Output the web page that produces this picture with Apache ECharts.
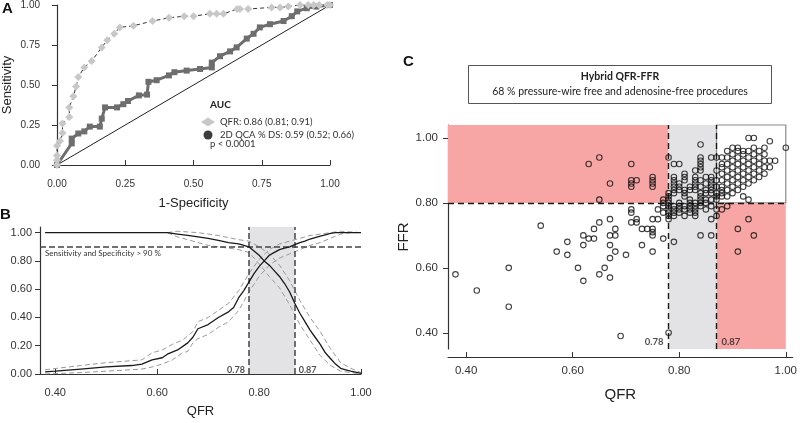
<!DOCTYPE html>
<html><head><meta charset="utf-8">
<script src="https://cdn.jsdelivr.net/npm/echarts@6/dist/echarts.min.js"></script>
<style>html,body{margin:0;padding:0;background:#fff}#c{width:800px;height:423px}</style>
</head><body><div id="c"></div>
<script>
// ---------- Panel A: ROC curves [1-specificity, sensitivity] ----------
const rocQfr = [[0,0],[0,0.03],[0,0.06],[0,0.12],[0.011,0.15],[0.02,0.20],[0.02,0.26],[0.045,0.30],[0.045,0.36],[0.06,0.43],[0.07,0.49],[0.078,0.55],[0.10,0.61],[0.127,0.65],[0.164,0.735],[0.184,0.78],[0.21,0.82],[0.23,0.86],[0.28,0.87],[0.35,0.90],[0.41,0.92],[0.466,0.93],[0.50,0.93],[0.56,0.945],[0.585,0.945],[0.61,0.945],[0.66,0.975],[0.67,0.975],[0.70,0.975],[0.786,0.985],[0.817,0.985],[0.847,0.99],[0.89,1.0],[0.92,1.0],[0.94,1.0],[0.96,1.0],[0.99,1.0],[1.0,1.0]];
const rocQca = [[0,0],[0.054,0.135],[0.054,0.165],[0.078,0.197],[0.10,0.21],[0.12,0.24],[0.157,0.24],[0.164,0.29],[0.176,0.36],[0.22,0.36],[0.243,0.38],[0.26,0.40],[0.30,0.435],[0.33,0.44],[0.335,0.52],[0.365,0.53],[0.41,0.56],[0.43,0.58],[0.475,0.59],[0.524,0.60],[0.567,0.61],[0.567,0.64],[0.597,0.68],[0.634,0.71],[0.658,0.735],[0.695,0.79],[0.72,0.82],[0.743,0.86],[0.78,0.88],[0.83,0.90],[0.86,0.93],[0.88,0.96],[0.915,0.98],[0.95,0.99],[1.0,1.0]];
const rocDiagonal = [[0,0],[1,1]];
const legendQfr = 'QFR: 0.86 (0.81; 0.91)';
const legendQca = '2D QCA % DS: 0.59 (0.52; 0.66)';
const ticksA = [0, 0.25, 0.5, 0.75, 1];

// ---------- Panel B: sensitivity / specificity vs QFR cut-off ----------
const specCurve = [[0.38,1.0],[0.45,1.0],[0.55,1.0],[0.62,1.0],[0.64,0.99],[0.66,0.98],[0.68,0.97],[0.70,0.96],[0.72,0.945],[0.74,0.93],[0.76,0.92],[0.78,0.90],[0.79,0.87],[0.80,0.84],[0.81,0.80],[0.82,0.77],[0.83,0.73],[0.84,0.69],[0.85,0.64],[0.86,0.58],[0.87,0.50],[0.88,0.43],[0.89,0.37],[0.90,0.31],[0.91,0.26],[0.92,0.21],[0.93,0.15],[0.94,0.11],[0.95,0.07],[0.96,0.04],[0.97,0.03],[0.98,0.02],[1.00,0.005]];
const specUpper = [[0.62,1.0],[0.64,1.01],[0.68,1.0],[0.70,0.99],[0.72,0.98],[0.74,0.965],[0.76,0.95],[0.78,0.94],[0.80,0.90],[0.82,0.85],[0.84,0.77],[0.86,0.66],[0.87,0.59],[0.88,0.52],[0.90,0.40],[0.92,0.30],[0.94,0.18],[0.96,0.08],[0.98,0.04],[1.00,0.01]];
const specLower = [[0.62,1.0],[0.64,0.97],[0.66,0.95],[0.68,0.93],[0.70,0.91],[0.72,0.90],[0.74,0.89],[0.76,0.88],[0.78,0.86],[0.80,0.78],[0.82,0.69],[0.84,0.61],[0.86,0.49],[0.87,0.42],[0.88,0.35],[0.90,0.24],[0.92,0.13],[0.94,0.06],[0.96,0.02],[0.98,0.01],[1.00,0.0]];
const sensCurve = [[0.38,0.015],[0.40,0.02],[0.45,0.035],[0.50,0.05],[0.55,0.06],[0.57,0.07],[0.59,0.10],[0.61,0.115],[0.62,0.14],[0.64,0.17],[0.66,0.22],[0.67,0.26],[0.68,0.32],[0.70,0.35],[0.72,0.40],[0.74,0.44],[0.75,0.47],[0.76,0.54],[0.77,0.59],[0.78,0.65],[0.79,0.71],[0.80,0.76],[0.81,0.80],[0.82,0.84],[0.83,0.86],[0.84,0.88],[0.85,0.89],[0.86,0.90],[0.87,0.915],[0.88,0.93],[0.89,0.94],[0.90,0.955],[0.91,0.965],[0.92,0.975],[0.93,0.985],[0.94,0.995],[0.95,1.0],[1.00,1.0]];
const sensUpper = [[0.38,0.03],[0.45,0.06],[0.50,0.08],[0.57,0.10],[0.59,0.15],[0.61,0.17],[0.63,0.21],[0.65,0.24],[0.67,0.30],[0.68,0.37],[0.70,0.40],[0.72,0.45],[0.74,0.50],[0.76,0.59],[0.78,0.71],[0.80,0.81],[0.82,0.88],[0.84,0.92],[0.86,0.94],[0.88,0.96],[0.90,0.98],[0.92,0.99],[0.94,1.0],[0.96,1.01],[1.00,1.0]];
const sensLower = [[0.38,0.0],[0.45,0.01],[0.50,0.02],[0.57,0.035],[0.59,0.05],[0.61,0.07],[0.63,0.10],[0.65,0.15],[0.66,0.16],[0.67,0.22],[0.68,0.25],[0.70,0.28],[0.72,0.33],[0.74,0.37],[0.76,0.45],[0.78,0.58],[0.80,0.69],[0.82,0.77],[0.84,0.82],[0.86,0.85],[0.88,0.88],[0.90,0.91],[0.92,0.93],[0.94,0.96],[0.96,0.99],[0.98,1.0],[1.00,1.0]];
const target90 = 0.90;
const cutoffs = [0.78, 0.87];
const ticksBx = [0.4, 0.6, 0.8, 1.0];
const ticksBy = [0, 0.2, 0.4, 0.6, 0.8, 1.0];

// ---------- Panel C: FFR vs QFR scatter ----------
const ffrVsQfr = [
[0.38,0.58],[0.42,0.53],[0.48,0.60],[0.48,0.48],[0.54,0.73],[0.57,0.65],[0.59,0.68],[0.59,0.64],[0.61,0.60],[0.62,0.70],[0.62,0.67],[0.62,0.56],[0.63,0.69],[0.64,0.72],[0.64,0.69],[0.65,0.74],[0.65,0.58],[0.66,0.60],[0.67,0.75],[0.67,0.70],[0.67,0.67],[0.67,0.63],[0.67,0.57],[0.68,0.72],[0.68,0.70],[0.68,0.65],[0.69,0.39],[0.70,0.64],[0.71,0.78],[0.71,0.77],[0.71,0.74],[0.72,0.75],[0.72,0.74],[0.73,0.72],[0.73,0.67],[0.74,0.72],[0.75,0.75],[0.75,0.72],[0.75,0.71],[0.75,0.70],[0.75,0.65],[0.76,0.75],[0.76,0.78],[0.77,0.69],[0.77,0.77],[0.77,0.79],[0.78,0.40],
[0.63,0.92],[0.65,0.94],[0.71,0.92],[0.67,0.86],[0.71,0.87],[0.71,0.86],[0.71,0.85],[0.72,0.87],[0.75,0.88],[0.75,0.87],[0.75,0.86],[0.75,0.85],[0.78,0.94],[0.65,0.81],[0.77,0.81],
[0.79,0.68],[0.78,0.75],[0.77,0.80],
[0.78,0.76],[0.78,0.77],[0.78,0.78],[0.78,0.79],[0.78,0.80],[0.78,0.81],[0.78,0.82],[0.78,0.83],
[0.79,0.92],[0.79,0.88],[0.79,0.87],[0.79,0.86],[0.79,0.85],[0.79,0.84],[0.79,0.83],[0.79,0.79],[0.79,0.78],[0.79,0.77],[0.79,0.76],
[0.80,0.92],[0.80,0.86],[0.80,0.85],[0.80,0.84],[0.80,0.80],[0.80,0.79],[0.80,0.78],[0.80,0.77],
[0.81,0.89],[0.81,0.88],[0.81,0.87],[0.81,0.84],[0.81,0.83],[0.81,0.82],[0.81,0.79],[0.81,0.78],[0.81,0.76],
[0.82,0.85],[0.82,0.84],[0.82,0.81],[0.82,0.80],[0.82,0.79],[0.82,0.78],[0.82,0.77],
[0.83,0.90],[0.83,0.88],[0.83,0.87],[0.83,0.86],[0.83,0.85],[0.83,0.84],[0.83,0.80],[0.83,0.79],[0.83,0.78],[0.83,0.77],[0.83,0.76],
[0.84,0.98],[0.84,0.94],[0.84,0.93],[0.84,0.92],[0.84,0.91],[0.84,0.90],[0.84,0.87],[0.84,0.85],[0.84,0.83],[0.84,0.82],[0.84,0.81],[0.84,0.80],[0.84,0.79],[0.84,0.70],
[0.85,0.88],[0.85,0.86],[0.85,0.84],[0.85,0.83],[0.85,0.81],[0.85,0.80],[0.85,0.78],
[0.86,0.94],[0.86,0.88],[0.86,0.87],[0.86,0.86],[0.86,0.85],[0.86,0.84],[0.86,0.83],[0.86,0.81],[0.86,0.79],[0.86,0.75],[0.86,0.70],
[0.87,0.94],[0.87,0.90],[0.87,0.87],[0.87,0.85],[0.87,0.83],[0.87,0.82],[0.87,0.81],[0.87,0.78],[0.87,0.76],
[0.88,0.94],[0.88,0.92],[0.88,0.91],[0.88,0.89],[0.88,0.87],[0.88,0.85],[0.88,0.84],[0.88,0.83],[0.88,0.82],[0.88,0.78],
[0.89,0.96],[0.89,0.94],[0.89,0.92],[0.89,0.90],[0.89,0.88],[0.89,0.86],[0.89,0.84],[0.89,0.82],[0.89,0.79],
[0.90,0.97],[0.90,0.95],[0.90,0.93],[0.90,0.91],[0.90,0.89],[0.90,0.87],[0.90,0.85],[0.90,0.83],
[0.91,0.97],[0.91,0.96],[0.91,0.94],[0.91,0.92],[0.91,0.90],[0.91,0.88],[0.91,0.86],[0.91,0.84],[0.91,0.72],[0.91,0.65],
[0.92,0.96],[0.92,0.95],[0.92,0.93],[0.92,0.91],[0.92,0.89],[0.92,0.87],[0.92,0.85],[0.92,0.82],
[0.93,1.00],[0.93,0.96],[0.93,0.94],[0.93,0.92],[0.93,0.90],[0.93,0.88],[0.93,0.86],[0.93,0.81],[0.93,0.75],
[0.94,1.00],[0.94,0.97],[0.94,0.95],[0.94,0.93],[0.94,0.91],[0.94,0.89],[0.94,0.87],[0.94,0.70],
[0.95,0.96],[0.95,0.94],[0.95,0.92],[0.95,0.90],[0.95,0.88],
[0.96,0.97],[0.96,0.95],[0.96,0.93],[0.96,0.91],[0.96,0.89],
[0.97,0.99],[0.97,0.93],[0.97,0.91],[0.98,0.93],[1.00,0.97]
];
const ffrCut = 0.80;
const ticksCx = [0.4, 0.6, 0.8, 1.0];
const ticksCy = [0.4, 0.6, 0.8, 1.0];

const AX = '#333';
const LAB = 'Liberation Sans, Arial, sans-serif';
const CAL = 'Lato, Open Sans, sans-serif';
const fmt = v => Number(v).toFixed(2);
const pink = '#f8a5a5', greyBand = '#e3e3e5';

const chart = echarts.init(document.getElementById('c'), null, {renderer: 'canvas'});

function xAx(grid, min, max, offset, ticks, name, nameGap, nameSize, labelSize, margin) {
  const o = {gridIndex: grid, type: 'value', min: min, max: max, offset: offset,
    axisLine: {show: true, lineStyle: {color: AX, width: 1.2}},
    axisTick: {show: true, inside: true, length: 5, lineStyle: {color: AX}},
    axisLabel: {formatter: fmt, fontSize: labelSize, color: '#333', fontFamily: LAB, margin: margin},
    splitLine: {show: false},
    name: name, nameLocation: 'middle', nameGap: nameGap,
    nameTextStyle: {fontSize: nameSize, color: '#222', fontFamily: LAB}};
  if (ticks) { o.axisLabel.customValues = ticks; o.axisTick.customValues = ticks; }
  return o;
}
function yAx(grid, min, max, offset, ticks, name, nameGap, nameSize, labelSize, margin) {
  const o = {gridIndex: grid, type: 'value', min: min, max: max, offset: offset,
    axisLine: {show: true, lineStyle: {color: AX, width: 1.2}},
    axisTick: {show: true, inside: false, length: 5, lineStyle: {color: AX}},
    axisLabel: {formatter: fmt, fontSize: labelSize, color: '#333', fontFamily: LAB, margin: margin},
    splitLine: {show: false},
    name: name, nameLocation: 'middle', nameGap: nameGap, nameRotate: 90,
    nameTextStyle: {fontSize: nameSize, color: '#222', fontFamily: LAB}};
  if (ticks) { o.axisLabel.customValues = ticks; o.axisTick.customValues = ticks; }
  return o;
}

const option = {
  animation: false,
  backgroundColor: '#fff',
  grid: [
    {left: 57, top: 4, width: 273, height: 161},
    {left: 40, top: 227, width: 321, height: 147},
    {left: 448, top: 125, width: 347, height: 224}
  ],
  xAxis: [
    xAx(0, 0, 1, 8, ticksA, '1-Specificity', 24, 13, 10, 6),
    xAx(1, 0.37, 1.0, 8, ticksBx, 'QFR', 23, 13, 11, 5),
    xAx(2, 0.366, 1.013, 8, ticksCx, 'QFR', 30, 15, 11.5, 8)
  ],
  yAxis: [
    yAx(0, 0, 1, 9, ticksA, 'Sensitivity', 34, 13, 10, 8),
    yAx(1, 0, 1.04, 0, ticksBy, '', 30, 13, 11, 8),
    yAx(2, 0.35, 1.04, 0, ticksCy, 'FFR', 32, 15, 11.5, 10)
  ],
  legend: {
    left: 196, top: 112, orient: 'vertical', itemWidth: 14, itemHeight: 9, itemGap: 3,
    textStyle: {fontSize: 9.5, color: '#333', fontFamily: CAL},
    data: [
      {name: legendQfr, icon: 'diamond', itemStyle: {color: '#c8c8c8'}},
      {name: legendQca, icon: 'circle', itemStyle: {color: '#3c3c3c'}}
    ]
  },
  series: [
    // Panel A
    {type: 'line', name: 'diag', xAxisIndex: 0, yAxisIndex: 0, data: rocDiagonal, symbol: 'none',
      lineStyle: {color: '#222', width: 1}, z: 2},
    {type: 'line', name: legendQca, xAxisIndex: 0, yAxisIndex: 0, data: rocQca, symbol: 'rect', symbolSize: 6,
      itemStyle: {color: '#6e6e6e'}, lineStyle: {color: '#6e6e6e', width: 3}, z: 3},
    {type: 'line', name: legendQfr, xAxisIndex: 0, yAxisIndex: 0, data: rocQfr, symbol: 'diamond', symbolSize: 8,
      itemStyle: {color: '#c8c8c8'}, lineStyle: {color: '#333', width: 1, type: [4, 3]}, z: 4},
    // Panel B background
    {type: 'line', name: 'bgB', xAxisIndex: 1, yAxisIndex: 1, data: [], z: 1,
      markArea: {silent: true, itemStyle: {color: greyBand}, data: [[{xAxis: cutoffs[0]}, {xAxis: cutoffs[1]}]]},
      markLine: {silent: true, symbol: 'none', label: {show: false},
        lineStyle: {color: '#444', width: 1.5, type: [6, 3]},
        data: [{xAxis: cutoffs[0]}, {xAxis: cutoffs[1]}, {yAxis: target90}]}},
    {type: 'line', xAxisIndex: 1, yAxisIndex: 1, data: specUpper, symbol: 'none', lineStyle: {color: '#9a9a9a', width: 1, type: [5, 3]}, z: 4},
    {type: 'line', xAxisIndex: 1, yAxisIndex: 1, data: specLower, symbol: 'none', lineStyle: {color: '#9a9a9a', width: 1, type: [5, 3]}, z: 4},
    {type: 'line', xAxisIndex: 1, yAxisIndex: 1, data: sensUpper, symbol: 'none', lineStyle: {color: '#9a9a9a', width: 1, type: [5, 3]}, z: 4},
    {type: 'line', xAxisIndex: 1, yAxisIndex: 1, data: sensLower, symbol: 'none', lineStyle: {color: '#9a9a9a', width: 1, type: [5, 3]}, z: 4},
    {type: 'line', xAxisIndex: 1, yAxisIndex: 1, data: specCurve, symbol: 'none', lineStyle: {color: '#1a1a1a', width: 1.3}, z: 5},
    {type: 'line', xAxisIndex: 1, yAxisIndex: 1, data: sensCurve, symbol: 'none', lineStyle: {color: '#1a1a1a', width: 1.3}, z: 5},
    {type: 'scatter', xAxisIndex: 1, yAxisIndex: 1, symbolSize: 0, z: 6,
      data: cutoffs.map((c, i) => ({value: [c, 0.03], label: {position: i === 0 ? 'left' : 'right'}})),
      label: {show: true, formatter: p => fmt(p.value[0]), fontSize: 9, fontWeight: 'bold', color: '#222', fontFamily: CAL, distance: 4}},
    // Panel C background
    {type: 'line', name: 'bgC', xAxisIndex: 2, yAxisIndex: 2, data: [], z: 1,
      markArea: {silent: true, data: [
        [{coord: [0.366, ffrCut], itemStyle: {color: pink}}, {coord: [cutoffs[0], 1.04]}],
        [{xAxis: cutoffs[0], itemStyle: {color: greyBand}}, {xAxis: cutoffs[1]}],
        [{coord: [cutoffs[1], ffrCut], itemStyle: {color: '#fff', borderColor: '#8a8a8a', borderWidth: 1.2}}, {coord: [1.0, 1.04]}],
        [{coord: [cutoffs[1], 0.35], itemStyle: {color: pink}}, {coord: [1.0, ffrCut]}]
      ]},
      markLine: {silent: true, symbol: 'none', label: {show: false},
        lineStyle: {color: '#1a1a1a', width: 1.4, type: [6, 4]},
        data: [{xAxis: cutoffs[0]}, {xAxis: cutoffs[1]}, [{coord: [0.366, ffrCut]}, {coord: [1.0, ffrCut]}]]}},
    {type: 'scatter', xAxisIndex: 2, yAxisIndex: 2, data: ffrVsQfr, symbol: 'circle', symbolSize: 5.5, z: 5,
      itemStyle: {color: 'rgba(255,255,255,0)', borderColor: '#111', borderWidth: 1.1}},
    {type: 'scatter', xAxisIndex: 2, yAxisIndex: 2, symbolSize: 0, z: 6,
      data: cutoffs.map((c, i) => ({value: [c, 0.372], label: {position: i === 0 ? 'left' : 'right'}})),
      label: {show: true, formatter: p => fmt(p.value[0]), fontSize: 9.5, fontWeight: 'bold', color: '#222', fontFamily: CAL, distance: 5}}
  ],
  graphic: [
    {type: 'text', left: 2, top: 1, style: {text: 'A', font: 'bold 15px Liberation Sans, Arial', fill: '#111'}},
    {type: 'text', left: 0, top: 207, style: {text: 'B', font: 'bold 15px Liberation Sans, Arial', fill: '#111'}},
    {type: 'text', left: 403, top: 54, style: {text: 'C', font: 'bold 15px Liberation Sans, Arial', fill: '#111'}},
    {type: 'text', left: 210, top: 100, style: {text: 'AUC', font: 'bold 10px Lato, sans-serif', fill: '#222'}},
    {type: 'text', left: 210, top: 139, style: {text: 'p < 0.0001', font: '9.5px Lato, sans-serif', fill: '#333'}},
    {type: 'text', left: 45, top: 249, style: {text: 'Sensitivity and Specificity > 90 %', font: '8px Lato, sans-serif', fill: '#333'}},
    {type: 'rect', left: 468, top: 65, shape: {width: 303, height: 38}, style: {fill: '#fff', stroke: '#555', lineWidth: 1}},
    {type: 'text', x: 620, y: 77, style: {text: 'Hybrid QFR-FFR', font: 'bold 10.5px Lato, sans-serif', fill: '#222', align: 'center', verticalAlign: 'middle'}},
    {type: 'text', x: 620, y: 92, style: {text: '68 % pressure-wire free and adenosine-free procedures', font: '10.5px Lato, sans-serif', fill: '#222', align: 'center', verticalAlign: 'middle'}}
  ]
};
chart.setOption(option);
</script></body></html>
